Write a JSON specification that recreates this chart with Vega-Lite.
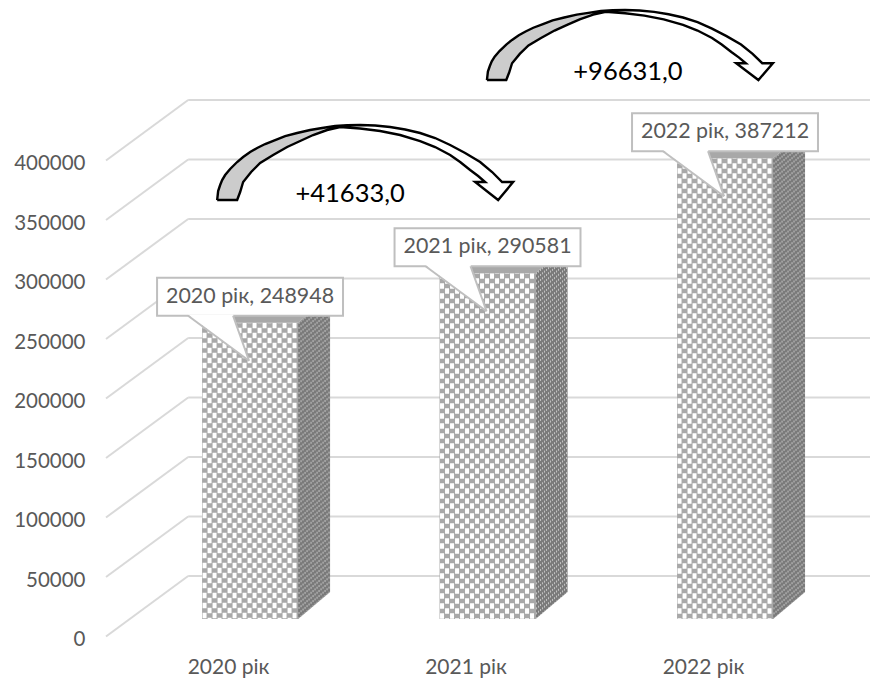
{
"$schema":"https://vega.github.io/schema/vega-lite/v6.json",
"autosize":"none","width":764,"height":476,
"padding":{"left":106,"top":160.5,"right":17,"bottom":47.5},
"background":"white",
"datasets":{
"bars":[{"year":2020,"value":248948},{"year":2021,"value":290581},{"year":2022,"value":387212}],
"ticks":[{"v":0},{"v":50000},{"v":100000},{"v":150000},{"v":200000},{"v":250000},{"v":300000},{"v":350000},{"v":400000}],
"arrows":[{"arrow":"2020-2021","x0":2019.954,"y0":366790,"kx":0.0042105,"ky":840.3,"text":"+41633,0","tu":133,"tv":6},
{"arrow":"2021-2022","x0":2021.09,"y0":467630,"kx":0.004068,"ky":784.3,"text":"+96631,0","tu":146,"tv":8.6}]
},
"config":{"view":{"stroke":null},"axis":{"domain":false,"ticks":false,"grid":false,"labelFont":"Lato","labelColor":"#595959"}},
"layer":[
{"data":{"name":"ticks"},"transform":[{"calculate":"2019.486","as":"a"},{"calculate":"2019.832","as":"b"},{"calculate":"datum.v+50840","as":"w"}],
 "mark":{"type":"rule","stroke":"#d9d9d9","strokeWidth":2},
 "encoding":{"x":{"field":"a","type":"quantitative","scale":{"domain":[2019.486,2022.703],"nice":false,"zero":false},
   "axis":{"values":[2020,2021,2022],"labelExpr":"datum.value + ' рік'","title":null,"labelFontSize":21,"labelPadding":20}},
  "x2":{"field":"b"},
  "y":{"field":"v","type":"quantitative","scale":{"domain":[0,400000],"nice":false},
   "axis":{"values":[0,50000,100000,150000,200000,250000,300000,350000,400000],"format":"d","title":null,"labelFontSize":20.5,"labelPadding":21,"labelOffset":3}},
  "y2":{"field":"w"}}},
{"data":{"name":"ticks"},"transform":[{"calculate":"2019.832","as":"b"},{"calculate":"2022.703","as":"c"},{"calculate":"datum.v+50840","as":"w"}],
 "mark":{"type":"rule","stroke":"#d9d9d9","strokeWidth":2},
 "encoding":{"x":{"field":"b","type":"quantitative","title":null},"x2":{"field":"c"},"y":{"field":"w","type":"quantitative","title":null}}},
{"data":{"name":"bars"},"transform":[{"calculate":"datum.year-0.1095","as":"a"},{"calculate":"datum.year+0.2947","as":"b"},{"calculate":"datum.value+14700","as":"t"},{"calculate":"14700","as":"f"}],
 "mark":{"type":"rect","fill":"#a8a8a8"},
 "encoding":{"x":{"field":"a","type":"quantitative","title":null},"x2":{"field":"b"},"y":{"field":"t","type":"quantitative","title":null},"y2":{"field":"f"}}},
{"data":{"name":"bars"},"transform":[{"calculate":"[0,2,4,6,8,10,12,14,16,18]","as":"k"},{"flatten":["k"]},{"calculate":"datum.year-0.099+datum.k*0.02105","as":"a"},{"calculate":"datum.value+14700","as":"t"},{"calculate":"14700","as":"f"}],
 "mark":{"type":"rule","stroke":"white","strokeWidth":4,"strokeDash":[5.5,4.5]},
 "encoding":{"x":{"field":"a","type":"quantitative","title":null},"y":{"field":"t","type":"quantitative","title":null},"y2":{"field":"f"}}},
{"data":{"name":"bars"},"transform":[{"calculate":"[1,3,5,7,9,11,13,15,17]","as":"k"},{"flatten":["k"]},{"calculate":"datum.year-0.099+datum.k*0.02105","as":"a"},{"calculate":"datum.value+14700","as":"t"},{"calculate":"14700","as":"f"}],
 "mark":{"type":"rule","stroke":"white","strokeWidth":4,"strokeDash":[5.5,4.5],"strokeDashOffset":5},
 "encoding":{"x":{"field":"a","type":"quantitative","title":null},"y":{"field":"t","type":"quantitative","title":null},"y2":{"field":"f"}}},
{"data":{"name":"bars"},"transform":[{"calculate":"[0.2947,0.4295]","as":"dx"},{"calculate":"[0,22700]","as":"dy"},{"flatten":["dx","dy"]},{"calculate":"datum.year+datum.dx","as":"a"},{"calculate":"datum.value+14700+datum.dy","as":"t"},{"calculate":"14700+datum.dy","as":"f"}],
 "mark":{"type":"area","fill":"#7a7a7a"},
 "encoding":{"x":{"field":"a","type":"quantitative","title":null},"y":{"field":"t","type":"quantitative","title":null},"y2":{"field":"f"},"detail":{"field":"year"}}},
{"data":{"name":"bars"},"transform":[{"calculate":"[1,3,5,7,9,11,13,15,17,19,21,23,25,27,29,31]","as":"k"},{"flatten":["k"]},{"calculate":"datum.year+0.2947+datum.k*0.00421","as":"a"},{"calculate":"datum.value+14700+datum.k*709","as":"t"},{"calculate":"14700+datum.k*709","as":"f"}],
 "mark":{"type":"rule","stroke":"#c4c4c4","strokeWidth":1,"strokeDash":[2,3]},
 "encoding":{"x":{"field":"a","type":"quantitative","title":null},"y":{"field":"t","type":"quantitative","title":null},"y2":{"field":"f"}}},
{"data":{"name":"bars"},"transform":[{"calculate":"[-0.1095,0.0253,0.2947,0.4295]","as":"dx"},{"calculate":"[0,22700,22700,22700]","as":"d1"},{"calculate":"[0,0,0,22700]","as":"d2"},{"flatten":["dx","d1","d2"]},{"calculate":"datum.year+datum.dx","as":"a"},{"calculate":"datum.value+14700+datum.d1","as":"t"},{"calculate":"datum.value+14700+datum.d2","as":"f"}],
 "mark":{"type":"area","fill":"#a8a8a8"},
 "encoding":{"x":{"field":"a","type":"quantitative","title":null},"y":{"field":"t","type":"quantitative","title":null},"y2":{"field":"f"},"detail":{"field":"year"}}},
{"data":{"name":"bars"},"transform":[{"calculate":"datum.year-0.299","as":"a"},{"calculate":"datum.year+0.484","as":"b"},{"calculate":"datum.value+52510","as":"t"},{"calculate":"datum.value+20580","as":"f"}],
 "mark":{"type":"rect","fill":"white","stroke":"#bfbfbf","strokeWidth":2},
 "encoding":{"x":{"field":"a","type":"quantitative","title":null},"x2":{"field":"b"},"y":{"field":"t","type":"quantitative","title":null},"y2":{"field":"f"}}},
{"data":{"name":"bars"},"transform":[{"calculate":"[-0.1684,0.021,0.0884]","as":"dx"},{"calculate":"[21580,21580,-17230]","as":"d1"},{"calculate":"[21580,-7320,-17230]","as":"d2"},{"flatten":["dx","d1","d2"]},{"calculate":"datum.year+datum.dx","as":"a"},{"calculate":"datum.value+datum.d1","as":"t"},{"calculate":"datum.value+datum.d2","as":"f"}],
 "mark":{"type":"area","fill":"white"},
 "encoding":{"x":{"field":"a","type":"quantitative","title":null},"y":{"field":"t","type":"quantitative","title":null},"y2":{"field":"f"},"detail":{"field":"year"}}},
{"data":{"name":"bars"},"transform":[{"calculate":"[-0.1684,0.021]","as":"dx"},{"flatten":["dx"]},{"calculate":"datum.year+datum.dx","as":"a"},{"calculate":"datum.year+0.0884","as":"b"},{"calculate":"datum.value+20580","as":"t"},{"calculate":"datum.value-17230","as":"f"}],
 "mark":{"type":"rule","stroke":"#bfbfbf","strokeWidth":2},
 "encoding":{"x":{"field":"a","type":"quantitative","title":null},"x2":{"field":"b"},"y":{"field":"t","type":"quantitative","title":null},"y2":{"field":"f"}}},
{"data":{"name":"bars"},"transform":[{"calculate":"datum.year+0.0926","as":"a"},{"calculate":"datum.value+36550","as":"t"},{"calculate":"datum.year+' рік, '+datum.value","as":"lab"}],
 "mark":{"type":"text","font":"Lato","fontSize":21.4,"fill":"#595959","align":"center","baseline":"middle"},
 "encoding":{"x":{"field":"a","type":"quantitative","title":null},"y":{"field":"t","type":"quantitative","title":null},"text":{"field":"lab"}}},
{"data":{"name":"arrows"},"transform":[{"calculate":"[0,1,3,5,8,13,20,23,26,33,34,40,43,48,56,58,68,70,83,93,96,105,110,118,123]","as":"u"},{"calculate":"[0,9,15,20,25,31,38,41,43,48,48.5,52,54,56,59,60,64,64.5,68,70,70.5,72,73,74,74.3]","as":"p"},{"calculate":"[0,0,0,0,0,0,0,8,18,27,28,34,37,40,45,46,52,53,59,64,65,68,70,72,73]","as":"q"},{"flatten":["u","p","q"]},{"calculate":"datum.x0+datum.u*datum.kx","as":"a"},{"calculate":"datum.y0+datum.p*datum.ky","as":"t"},{"calculate":"datum.y0+datum.q*datum.ky","as":"f"}],
 "mark":{"type":"area","fill":"#cccccc"},
 "encoding":{"x":{"field":"a","type":"quantitative","title":null},"y":{"field":"t","type":"quantitative","title":null},"y2":{"field":"f"},"detail":{"field":"arrow"}}},
{"data":{"name":"arrows"},"transform":[{"calculate":"[123,130,143,158,163,173,183,188,203,218,233,243,248,253,261,263,268,275,285]","as":"u"},{"calculate":"[74.3,74.7,75,74.5,74.3,73,71.5,70.5,67,62,55,50,47,44,39.5,38,34.5,28,18]","as":"p"},{"calculate":"[73,72.5,71.5,70,69,67,65,63.5,59,53,45,38,34,30,24,23,18,18,18]","as":"q"},{"flatten":["u","p","q"]},{"calculate":"datum.x0+datum.u*datum.kx","as":"a"},{"calculate":"datum.y0+datum.p*datum.ky","as":"t"},{"calculate":"datum.y0+datum.q*datum.ky","as":"f"}],
 "mark":{"type":"area","fill":"white"},
 "encoding":{"x":{"field":"a","type":"quantitative","title":null},"y":{"field":"t","type":"quantitative","title":null},"y2":{"field":"f"},"detail":{"field":"arrow"}}},
{"data":{"name":"arrows"},"transform":[{"calculate":"[258,281,296]","as":"u"},{"calculate":"[18,18,18]","as":"p"},{"calculate":"[18,0,18]","as":"q"},{"flatten":["u","p","q"]},{"calculate":"datum.x0+datum.u*datum.kx","as":"a"},{"calculate":"datum.y0+datum.p*datum.ky","as":"t"},{"calculate":"datum.y0+datum.q*datum.ky","as":"f"}],
 "mark":{"type":"area","fill":"white"},
 "encoding":{"x":{"field":"a","type":"quantitative","title":null},"y":{"field":"t","type":"quantitative","title":null},"y2":{"field":"f"},"detail":{"field":"arrow"}}},
{"data":{"name":"arrows"},"transform":[{"calculate":"[0,1,3,5,8,13,20,26,33,40,48,58,68,80,93,105,118,130,143,158,173,188,203,218,233,248,263,275,285,296,281,258,268,261,253,243,233,218,203,183,163,143,123,110,96,83,70,56,43,34,26,23,20,0]","as":"u"},{"calculate":"[0,9,15,20,25,31,38,43,48,52,56,60,64,67,70,72,74,74.7,75,74.5,73,70.5,67,62,55,47,38,28,18,18,0,18,18,24,30,38,45,53,59,65,69,71.5,73,70,65,59,53,45,37,28,18,8,0,0]","as":"p"},{"calculate":"[0,1,2,3,4,5,6,7,8,9,10,11,12,13,14,15,16,17,18,19,20,21,22,23,24,25,26,27,28,29,30,31,32,33,34,35,36,37,38,39,40,41,42,43,44,45,46,47,48,49,50,51,52,53]","as":"i"},{"flatten":["u","p","i"]},{"calculate":"datum.x0+datum.u*datum.kx","as":"a"},{"calculate":"datum.y0+datum.p*datum.ky","as":"t"}],
 "mark":{"type":"line","stroke":"black","strokeWidth":2.4,"strokeJoin":"miter"},
 "encoding":{"x":{"field":"a","type":"quantitative","title":null},"y":{"field":"t","type":"quantitative","title":null},"order":{"field":"i","type":"quantitative"},"detail":{"field":"arrow"}}},
{"data":{"name":"arrows"},"transform":[{"calculate":"datum.x0+datum.tu*datum.kx","as":"a"},{"calculate":"datum.y0+datum.tv*datum.ky","as":"t"}],
 "mark":{"type":"text","font":"Lato","fontSize":25.5,"fill":"black","align":"center","baseline":"middle"},
 "encoding":{"x":{"field":"a","type":"quantitative","title":null},"y":{"field":"t","type":"quantitative","title":null},"text":{"field":"text"}}}
]
}
